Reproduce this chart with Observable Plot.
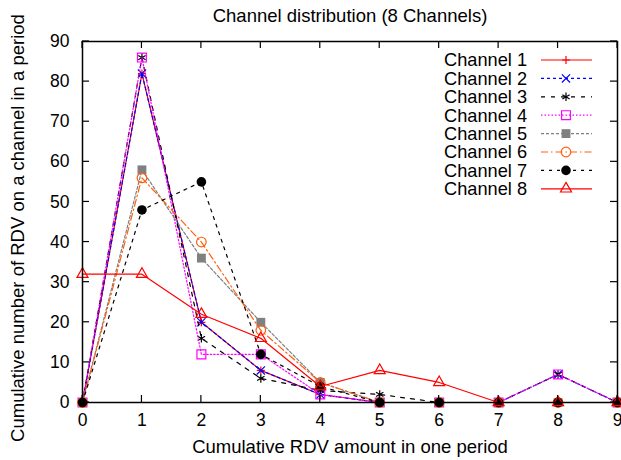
<!DOCTYPE html>
<html>
<head>
<meta charset="utf-8">
<script src="https://cdn.jsdelivr.net/npm/d3@7"></script>
<script src="https://cdn.jsdelivr.net/npm/@observablehq/plot@0.6"></script>
<style>
  html, body { margin: 0; padding: 0; background: #fff; }
  #chart { width: 621px; height: 460px; }
</style>
</head>
<body>
<div id="chart"></div>
<script>
const titleText = "Channel distribution (8 Channels)";
const xLabel = "Cumulative RDV amount in one period";
const yLabel = "Cumulative number of RDV on a channel in a period";
const xTicks = [0, 1, 2, 3, 4, 5, 6, 7, 8, 9];
const yTicks = [0, 10, 20, 30, 40, 50, 60, 70, 80, 90];
const seriesNames = ["Channel 1", "Channel 2", "Channel 3", "Channel 4", "Channel 5", "Channel 6", "Channel 7", "Channel 8"];
const ch1 = [0, 82, 20, 8, 2, 0, 0, 0, 0, 0];
const ch2 = [0, 82, 20, 8, 2, 0, 0, 0, 7, 0];
const ch3 = [0, 86, 16, 6, 3, 2, 0, 0, 7, 0];
const ch4 = [0, 86, 12, 12, 2, 0, 0, 0, 7, 0];
const ch5 = [0, 58, 36, 20, 5, 0, 0, 0, 0, 0];
const ch6 = [0, 56, 40, 18, 5, 0, 0, 0, 0, 0];
const ch7 = [0, 48, 55, 12, 4, 0, 0, 0, 0, 0];
const ch8 = [32, 32, 22, 16, 4, 8, 5, 0, 0, 0];
const seriesValues = [ch1, ch2, ch3, ch4, ch5, ch6, ch7, ch8];

const styles = [
  {color: "#ff0000", dash: null, symbol: "plus", filled: false, r: 2.7},
  {color: "#0000ff", dash: "3,3", symbol: "times", filled: false, r: 3.8},
  {color: "#000000", dash: "4,6", symbol: "asterisk", filled: false, r: 4},
  {color: "#ff00ff", dash: "1.5,2", symbol: "square", filled: false, r: 5},
  {color: "#808080", dash: "3,2", symbol: "square", filled: true, r: 5},
  {color: "#ff6010", dash: "7,3,1.5,3", symbol: "circle", filled: false, r: 4.8},
  {color: "#000000", dash: "3,5", symbol: "circle", filled: true, r: 4.8},
  {color: "#ff0000", dash: null, symbol: "triangle", filled: false, r: 4.1}
];

const W = 621, H = 460, mT = 41, mB = 58, mL = 82, mR = 4, tickLen = 7;

const marks = [];
seriesNames.forEach((name, k) => {
  const s = styles[k];
  const rows = xTicks.map((x, i) => ({x, y: seriesValues[k][i], name}));
  marks.push(Plot.line(rows, {x: "x", y: "y", stroke: s.color, strokeWidth: 1.2,
    strokeDasharray: s.dash == null ? undefined : s.dash}));
  marks.push(Plot.dot(rows, {x: "x", y: "y", symbol: () => s.symbol, r: s.r,
    stroke: s.filled ? "none" : s.color, fill: s.filled ? s.color : "none", strokeWidth: 1.2}));
});

const plot = Plot.plot({
  width: W,
  height: H,
  marginTop: mT,
  marginBottom: mB,
  marginLeft: mL,
  marginRight: mR,
  style: {fontFamily: "'Liberation Sans', Arial, Helvetica, sans-serif", fontSize: "18px", background: "#fff", overflow: "visible"},
  x: {domain: [0, 9]},
  y: {domain: [0, 90]},
  symbol: {type: "identity"},
  marks: [
    Plot.axisX({ticks: xTicks, tickSize: 0, tickPadding: 11, label: null, fontSize: 17.5, tickFormat: d => String(d)}),
    Plot.axisY({ticks: yTicks, tickSize: 0, tickPadding: 13, label: null, fontSize: 17.5, tickFormat: d => String(d)}),
    ...marks,
    Plot.frame({stroke: "#000", strokeWidth: 1.5}),
    Plot.text([titleText], {text: d => d, frameAnchor: "top", dy: -25, lineAnchor: "middle", fontSize: 18.5}),
    Plot.text([xLabel], {text: d => d, frameAnchor: "bottom", dy: 45, lineAnchor: "middle", fontSize: 18.5}),
    Plot.text([yLabel], {text: d => d, frameAnchor: "left", dx: -64, dy: 6, rotate: -90, textAnchor: "middle", lineAnchor: "middle", fontSize: 18.5})
  ]
});

document.getElementById("chart").appendChild(plot);

const svg = d3.select(plot);
// Inward ticks on all four sides, positioned with Plot's own scales
const sx = plot.scale("x"), sy = plot.scale("y");
const frameTop = mT, frameBottom = H - mB, frameLeft = mL, frameRight = W - mR;
const tg = svg.append("g").attr("stroke", "#000").attr("stroke-width", 1.2);
xTicks.forEach(v => {
  const px = sx.apply(v);
  tg.append("line").attr("x1", px).attr("x2", px).attr("y1", frameBottom).attr("y2", frameBottom - tickLen);
  tg.append("line").attr("x1", px).attr("x2", px).attr("y1", frameTop).attr("y2", frameTop + tickLen);
});
yTicks.forEach(v => {
  const py = sy.apply(v);
  tg.append("line").attr("y1", py).attr("y2", py).attr("x1", frameLeft).attr("x2", frameLeft + tickLen);
  tg.append("line").attr("y1", py).attr("y2", py).attr("x1", frameRight).attr("x2", frameRight - tickLen);
});

// Legend (inside the frame, top right)
const lg = svg.append("g").attr("font-family", "'Liberation Sans', Arial, sans-serif").attr("font-size", 18.2);
const symMap = {plus: d3.symbolPlus, times: d3.symbolTimes, asterisk: d3.symbolAsterisk, square: d3.symbolSquare, circle: d3.symbolCircle, triangle: d3.symbolTriangle};
seriesNames.forEach((name, k) => {
  const s = styles[k];
  const y = 60 + k * 18.4;
  lg.append("text").attr("x", 527).attr("y", y).attr("dy", "0.35em").attr("text-anchor", "end").attr("fill", "#000").text(name);
  lg.append("line").attr("x1", 541).attr("x2", 592).attr("y1", y).attr("y2", y)
    .attr("stroke", s.color).attr("stroke-width", 1.2).attr("stroke-dasharray", s.dash);
  lg.append("path").attr("transform", `translate(566,${y})`)
    .attr("d", d3.symbol(symMap[s.symbol], Math.PI * s.r * s.r)())
    .attr("stroke", s.filled ? "none" : s.color).attr("fill", s.filled ? s.color : "none").attr("stroke-width", 1.2);
});
</script>
</body>
</html>
